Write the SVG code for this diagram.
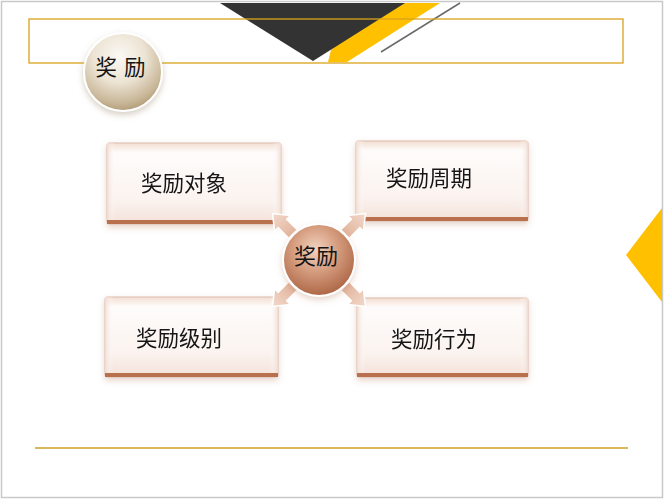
<svg xmlns="http://www.w3.org/2000/svg" width="665" height="500" viewBox="0 0 665 500">
<defs>
<style>
.t{font-family:"Noto Sans CJK SC","Noto Sans",sans-serif;font-size:21.5px;fill:#141414;text-anchor:middle}
.box{fill:url(#boxg);stroke:#dcbcab;stroke-width:1}
.band{fill:#b8704f}
.arr{fill:url(#arrg);stroke:#ffffff;stroke-width:1.5;stroke-linejoin:miter}
</style>
<linearGradient id="boxg" x1="0" y1="0" x2="0" y2="1">
<stop offset="0" stop-color="#f3ddd1"/>
<stop offset="0.12" stop-color="#fefcfb"/>
<stop offset="0.7" stop-color="#fbf3ef"/>
<stop offset="1" stop-color="#f3e1d8"/>
</linearGradient>
<linearGradient id="boxside" x1="0" y1="0" x2="1" y2="0">
<stop offset="0" stop-color="#f0dcd2" stop-opacity="0.9"/>
<stop offset="0.05" stop-color="#ffffff" stop-opacity="0"/>
<stop offset="0.95" stop-color="#ffffff" stop-opacity="0"/>
<stop offset="1" stop-color="#f0dcd2" stop-opacity="0.9"/>
</linearGradient>
<radialGradient id="cg" cx="0.45" cy="0.35" r="0.7">
<stop offset="0" stop-color="#f2d3c0"/>
<stop offset="0.45" stop-color="#d59c7e"/>
<stop offset="1" stop-color="#a75f3e"/>
</radialGradient>
<radialGradient id="bg" cx="0.45" cy="0.3" r="0.75">
<stop offset="0" stop-color="#fbf9f4"/>
<stop offset="0.45" stop-color="#ece3d3"/>
<stop offset="0.8" stop-color="#c8b697"/>
<stop offset="1" stop-color="#a8916a"/>
</radialGradient>
<linearGradient id="arrg" x1="0" y1="0" x2="1" y2="0">
<stop offset="0" stop-color="#e2b49c"/>
<stop offset="1" stop-color="#f2d9cc"/>
</linearGradient>
<filter id="sh" x="-20%" y="-20%" width="140%" height="150%">
<feGaussianBlur in="SourceAlpha" stdDeviation="3"/>
<feOffset dx="0" dy="3" result="b"/>
<feFlood flood-color="#b07050" flood-opacity="0.3"/>
<feComposite in2="b" operator="in"/>
<feMerge><feMergeNode/><feMergeNode in="SourceGraphic"/></feMerge>
</filter>
<filter id="sh2" x="-30%" y="-30%" width="160%" height="170%">
<feGaussianBlur in="SourceAlpha" stdDeviation="3"/>
<feOffset dx="0" dy="3" result="b"/>
<feFlood flood-color="#8a7050" flood-opacity="0.35"/>
<feComposite in2="b" operator="in"/>
<feMerge><feMergeNode/><feMergeNode in="SourceGraphic"/></feMerge>
</filter>
<polygon id="arrow" points="0,-6 15,-6 15,-11 29,0 15,11 15,6 0,6"/>
</defs>

<rect x="0" y="0" width="665" height="500" fill="#ffffff"/>
<rect x="1.5" y="1.5" width="661" height="496" fill="#ffffff" stroke="#c9c9c9" stroke-width="1.5"/>

<g id="decor">
<polygon points="380,3 440,3 347,62 328,62 331,50" fill="#ffc000"/>
<polygon points="220,3 405,3 313,61" fill="#333333"/>
<line x1="460" y1="3" x2="381" y2="52" stroke="#6a6a6a" stroke-width="1.5"/>
<rect x="29" y="19" width="594" height="44" fill="none" stroke="#d9a21b" stroke-width="1.3"/>
<polygon points="662,208 662,302 626,255" fill="#ffc000"/>
<line x1="35" y1="448" x2="628" y2="448" stroke="#d8b85a" stroke-width="2"/>
</g>

<g id="title">
<circle cx="123" cy="72" r="39" fill="url(#bg)" stroke="#ffffff" stroke-width="2" filter="url(#sh2)"/>
<text class="t" x="121" y="75" style="letter-spacing:1px">奖 励</text>
</g>

<g id="node-tl" filter="url(#sh)">
<rect class="box" x="107" y="143" width="174" height="81" rx="2"/>
<rect x="107" y="143" width="174" height="81" fill="url(#boxside)"/>
<rect class="band" x="107" y="220" width="174" height="4"/>
<text class="t" x="184" y="191">奖励对象</text>
</g>
<g id="node-tr" filter="url(#sh)">
<rect class="box" x="356" y="141" width="172" height="80" rx="2"/>
<rect x="356" y="141" width="172" height="80" fill="url(#boxside)"/>
<rect class="band" x="356" y="217" width="172" height="4"/>
<text class="t" x="429" y="186">奖励周期</text>
</g>
<g id="node-bl" filter="url(#sh)">
<rect class="box" x="105" y="297" width="173" height="80" rx="2"/>
<rect x="105" y="297" width="173" height="80" fill="url(#boxside)"/>
<rect class="band" x="105" y="373" width="173" height="4"/>
<text class="t" x="179" y="346">奖励级别</text>
</g>
<g id="node-br" filter="url(#sh)">
<rect class="box" x="357" y="298" width="171" height="79" rx="2"/>
<rect x="357" y="298" width="171" height="79" fill="url(#boxside)"/>
<rect class="band" x="357" y="373" width="171" height="4"/>
<text class="t" x="434" y="347">奖励行为</text>
</g>

<g id="connectors">
<use href="#arrow" class="arr" transform="translate(293,234) rotate(-135)"/>
<use href="#arrow" class="arr" transform="translate(345,234) rotate(-45)"/>
<use href="#arrow" class="arr" transform="translate(293,286) rotate(135)"/>
<use href="#arrow" class="arr" transform="translate(345,286) rotate(45)"/>
</g>

<g id="center">
<circle cx="319" cy="260" r="36" fill="url(#cg)" stroke="#ffffff" stroke-width="2" filter="url(#sh)"/>
<text class="t" x="316" y="264" style="font-size:22px">奖励</text>
</g>
</svg>
